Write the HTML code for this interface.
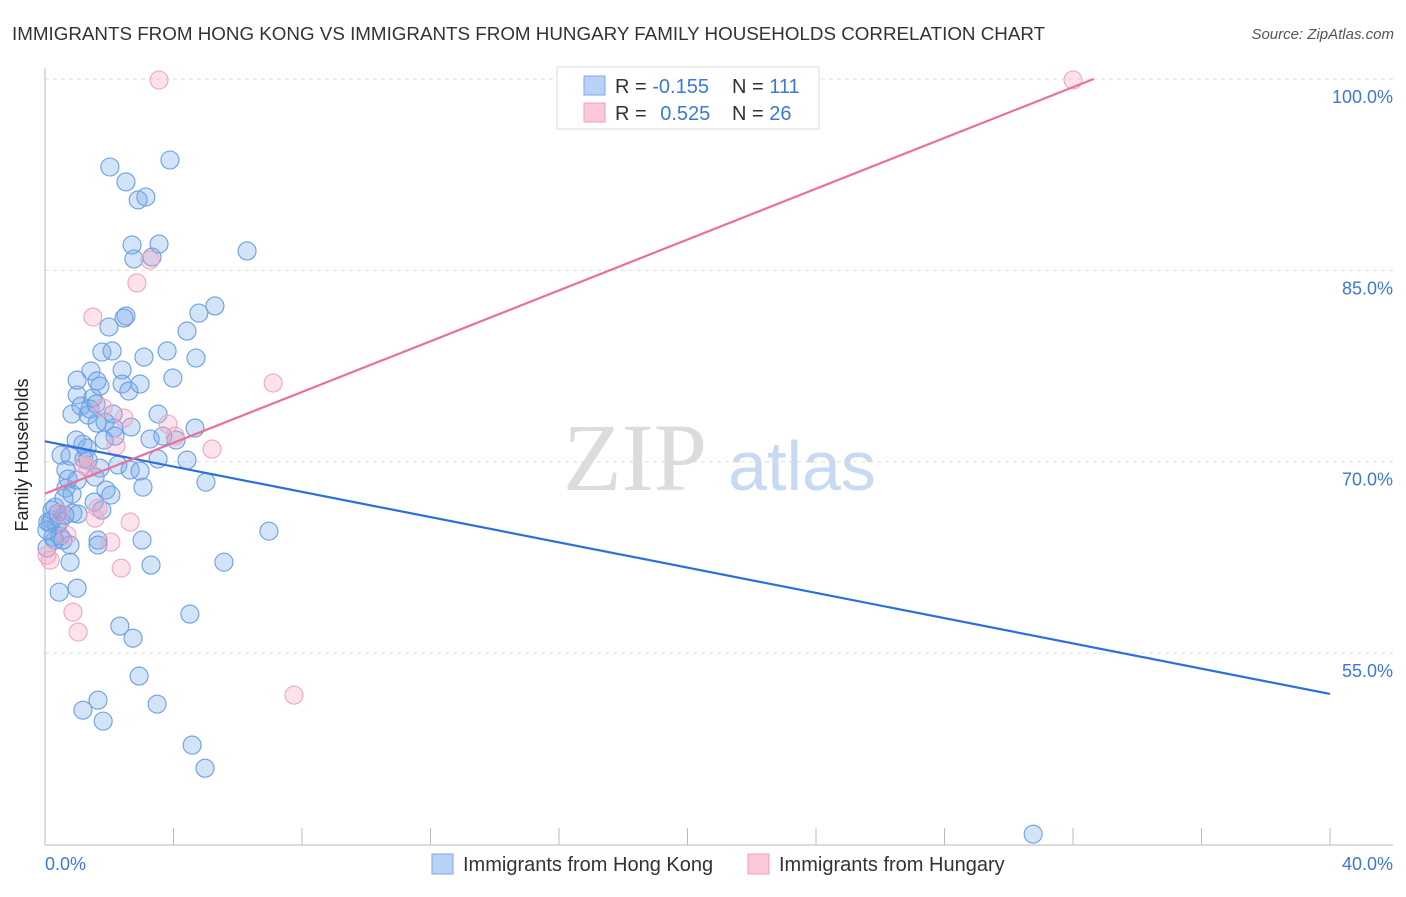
<!DOCTYPE html>
<html><head><meta charset="utf-8"><style>
body{margin:0;background:#fff;font-family:"Liberation Sans",sans-serif;}
svg text{font-family:"Liberation Sans",sans-serif;}
</style></head><body>
<svg id="chart" width="1406" height="892">
<text x="12" y="40" font-size="18.8" fill="#333">IMMIGRANTS FROM HONG KONG VS IMMIGRANTS FROM HUNGARY FAMILY HOUSEHOLDS CORRELATION CHART</text>
<text x="1394" y="39" font-size="15" fill="#555" font-style="italic" text-anchor="end">Source: ZipAtlas.com</text>
<g>
<text x="635" y="490" font-size="96" fill="#dcdcdc" text-anchor="middle" font-family="Liberation Serif" style="font-family:'Liberation Serif',serif">ZIP</text>
<text x="802" y="490" font-size="70" fill="#c8daf2" text-anchor="middle">atlas</text>
</g>
<g id="grid"></g>
<line x1="45" y1="68" x2="45" y2="845" stroke="#bbb"/>
<line x1="45" y1="845" x2="1393" y2="845" stroke="#bbb"/>
<g id="xticks"></g>
<text x="28" y="455" font-size="18" fill="#222" text-anchor="middle" transform="rotate(-90 28 455)">Family Households</text>
<text x="45" y="870" font-size="18" fill="#3b78d8">0.0%</text>
<text x="1393" y="870" font-size="18" fill="#3b78d8" text-anchor="end">40.0%</text>
<g id="points"></g>
<g id="lines"></g>
<g>
<rect x="557" y="67" width="262" height="62" fill="#fff" stroke="#ddd"/>
<rect x="584" y="76" width="21" height="19" fill="#b8d2f5" stroke="#7aa8e8"/>
<rect x="584" y="103" width="21" height="19" fill="#fcc8d8" stroke="#f0a0b8"/>
<text x="615" y="93" font-size="20" fill="#333">R = <tspan fill="#3b78d8">-0.155</tspan></text>
<text x="732" y="93" font-size="20" fill="#333">N = <tspan fill="#3b78d8">111</tspan></text>
<text x="615" y="120" font-size="20" fill="#333">R = <tspan fill="#3b78d8" dx="8">0.525</tspan></text>
<text x="732" y="120" font-size="20" fill="#333">N = <tspan fill="#3b78d8">26</tspan></text>
</g>
<g>
<rect x="432" y="854" width="21" height="20" fill="#b8d2f5" stroke="#7aa8e8"/>
<text x="463" y="871" font-size="20" fill="#333">Immigrants from Hong Kong</text>
<rect x="748" y="854" width="21" height="20" fill="#fcc8d8" stroke="#f0a0b8"/>
<text x="779" y="871" font-size="20" fill="#333">Immigrants from Hungary</text>
</g>
</svg>
<script>
const blueX=[2.02,3.89,2.52,2.90,3.14,2.71,3.55,2.77,3.33,6.29,5.29,4.79,2.52,2.46,1.99,4.42,1.77,2.09,3.08,3.80,4.70,1.43,2.40,1.62,1.71,2.40,3.98,2.61,1.00,1.49,1.12,1.59,0.84,1.34,1.40,1.87,3.52,2.68,2.15,0.97,1.31,2.18,1.84,3.27,3.67,4.08,4.67,1.18,0.50,0.78,1.21,1.34,0.65,2.27,2.65,2.96,4.42,3.52,0.72,0.65,0.84,1.90,2.05,3.05,5.01,1.53,0.59,0.87,1.03,1.77,0.31,0.47,0.22,0.37,0.16,0.09,0.31,0.78,1.65,1.65,3.02,3.30,5.57,6.97,0.78,0.44,1.00,2.33,2.74,4.51,2.93,1.65,1.18,1.81,3.49,4.58,4.98,30.76,0.06,0.25,0.47,0.06,0.62,1.00,1.71,1.56,2.12,2.96,1.62,0.40,1.00,0.22,0.56];
const blueY=[93.10,93.65,91.93,90.52,90.75,86.99,87.06,85.89,86.04,86.52,82.21,81.65,81.42,81.26,80.56,80.24,78.60,78.68,78.20,78.68,78.13,77.11,77.19,76.33,75.93,76.09,76.56,75.54,75.23,74.99,74.36,74.52,73.74,73.66,74.13,73.11,73.74,72.72,72.64,71.70,71.07,72.01,71.70,71.78,72.01,71.70,72.64,71.38,70.52,70.44,70.21,70.13,69.35,69.74,69.35,69.27,70.13,70.21,68.64,67.93,67.46,67.78,67.39,68.01,68.40,66.84,67.15,65.97,65.90,66.21,66.44,65.35,65.43,65.03,65.27,65.27,63.86,63.47,63.86,63.47,63.86,61.90,62.13,64.56,62.13,59.78,60.09,57.12,56.17,58.06,53.20,51.31,50.53,49.67,51.00,47.79,45.98,40.81,63.23,64.09,64.17,64.64,65.82,68.56,69.50,68.80,73.74,76.09,73.03,65.97,76.40,66.21,63.86];
const pinkX=[3.55,32.00,3.27,2.86,1.49,7.10,1.81,2.46,3.83,4.05,5.20,2.21,1.34,1.21,1.65,2.65,0.68,2.05,0.47,2.37,0.87,1.03,7.75,0.16,0.06,1.56];
const pinkY=[99.92,99.92,85.81,84.01,81.34,76.17,74.21,73.42,72.95,72.01,70.99,71.23,69.50,69.74,66.37,65.27,64.25,63.70,65.97,61.66,58.21,56.65,51.71,62.29,62.68,65.58];
const yTicks=[100,85,70,55];
const yTickLabels=["100.0%","85.0%","70.0%","55.0%"];
const xTicks=[0,4,8,12,16,20,24,28,32,36,40];
const blueTrend=[71.6,-0.495]; // intercept, slope
const pinkTrend=[67.5,0.9957];

const NS="http://www.w3.org/2000/svg";
const X0=45,X1=1330,XMIN=0,XMAX=40,YT=68,YB=845,YMIN=39.96,YMAX=100.86;
function sx(v){return X0+(v-XMIN)/(XMAX-XMIN)*(X1-X0);}
function sy(v){return YB-(v-YMIN)/(YMAX-YMIN)*(YB-YT);}
function mk(tag,attrs,parent){const e=document.createElementNS(NS,tag);for(const k in attrs)e.setAttribute(k,attrs[k]);parent.appendChild(e);return e;}
const grid=document.getElementById('grid');
yTicks.forEach((t,i)=>{
  const l=mk('line',{x1:45,x2:1393,y1:sy(t),y2:sy(t),stroke:'#ddd','stroke-dasharray':'4 4'},grid);
  
  
  const tx=mk('text',{x:1393,y:sy(t)+24,'font-size':18,fill:'#3b78d8','text-anchor':'end'},grid);
  tx.textContent=yTickLabels[i];
  
  
});
const xt=document.getElementById('xticks');
xTicks.forEach(t=>{
  const l=mk('line',{x1:sx(t),x2:sx(t),y1:828,y2:845,stroke:'#bbb'},xt);
  
  
});
const pts=document.getElementById('points');
blueX.forEach((x,i)=>{
  const c=mk('circle',{cx:sx(x),cy:sy(blueY[i]),r:9,fill:'rgba(120,170,235,0.33)',stroke:'#6a9fe2','stroke-width':1.1},pts);
  
  
});
pinkX.forEach((x,i)=>{
  const c=mk('circle',{cx:sx(x),cy:sy(pinkY[i]),r:9,fill:'rgba(245,160,190,0.3)',stroke:'#f0a6be','stroke-width':1.1},pts);
  
  
});
const ln=document.getElementById('lines');
const bl=mk('line',{x1:sx(0),y1:sy(blueTrend[0]),x2:sx(40),y2:sy(blueTrend[0]+blueTrend[1]*40),stroke:'#2d6fd8','stroke-width':2.2},ln);


const pEnd=(100-pinkTrend[0])/pinkTrend[1];
const pl=mk('line',{x1:sx(0),y1:sy(pinkTrend[0]),x2:sx(pEnd),y2:sy(100),stroke:'#e8709a','stroke-width':2.2},ln);


</script>
</body></html>
